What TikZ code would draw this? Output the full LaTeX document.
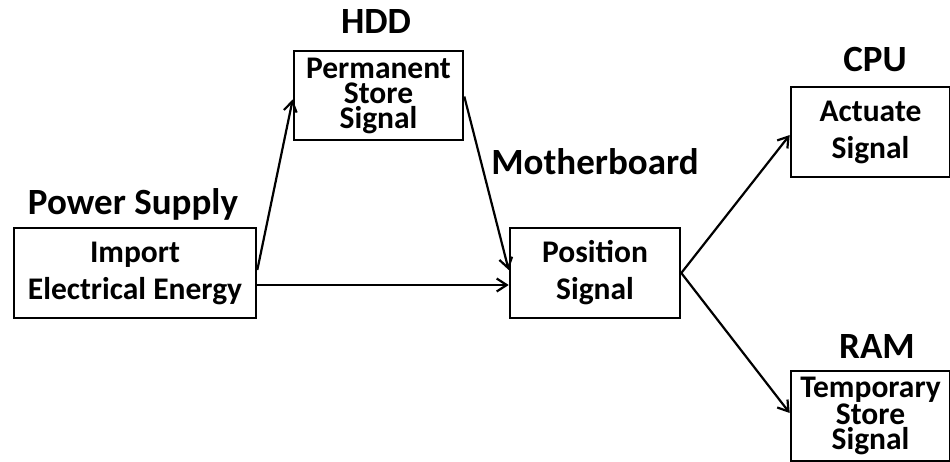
\documentclass[tikz,border=0pt]{standalone}
\usepackage{fontspec}
\setmainfont{Carlito}
\usetikzlibrary{arrows.meta,calc}
\begin{document}
\begin{tikzpicture}[x=1pt,y=-1pt,
  box/.style={draw,line width=2.6pt,rectangle,inner sep=0pt,align=center,font=\bfseries\fontsize{31.5}{37}\selectfont},
  tbox/.style={box,font=\bfseries\fontsize{31.5}{25}\selectfont},
  lbl/.style={font=\bfseries\fontsize{37}{40}\selectfont,inner sep=0pt},
  conn/.style={line width=2.2pt,-{Straight Barb[length=10pt,width=13pt,line width=2.2pt]}}]
\useasboundingbox (0,0) rectangle (950,461);
\node[box,minimum width=242pt,minimum height=90pt] (ps) at (135,273) {Import\\Electrical Energy};
\node[tbox,minimum width=169pt,minimum height=89pt] (hdd) at (378.5,95.5) {Permanent\\Store\\Signal};
\node[box,minimum width=170pt,minimum height=90pt] (pos) at (595,273) {Position\\Signal};
\node[box,minimum width=159pt,minimum height=90pt] (cpu) at (870.5,132) {Actuate\\Signal};
\node[tbox,minimum width=159pt,minimum height=90pt] (ram) at (870.5,416) {Temporary\\Store\\Signal};
\node[lbl] (lps) at (133,204) {Power Supply};
\node[lbl] (lhdd) at (376,22) {HDD};
\node[lbl] (lmb) at (595,162) {Motherboard};
\node[lbl] (lcpu) at (875,60) {CPU};
\node[lbl] (lram) at (877,346) {RAM};
\draw[conn] ($(ps.east)+(0,-3)$) -- ($(hdd.west)+(0,4)$);
\draw[conn] ($(ps.east)+(0,12)$) -- ($(pos.west)+(0,12)$);
\draw[conn] ($(hdd.east)+(0,1)$) -- ($(pos.west)+(0,-3)$);
\draw[conn] (pos.east) -- ($(cpu.west)+(0,3)$);
\draw[conn] (pos.east) -- ($(ram.west)+(0,-3)$);
\end{tikzpicture}
\end{document}
